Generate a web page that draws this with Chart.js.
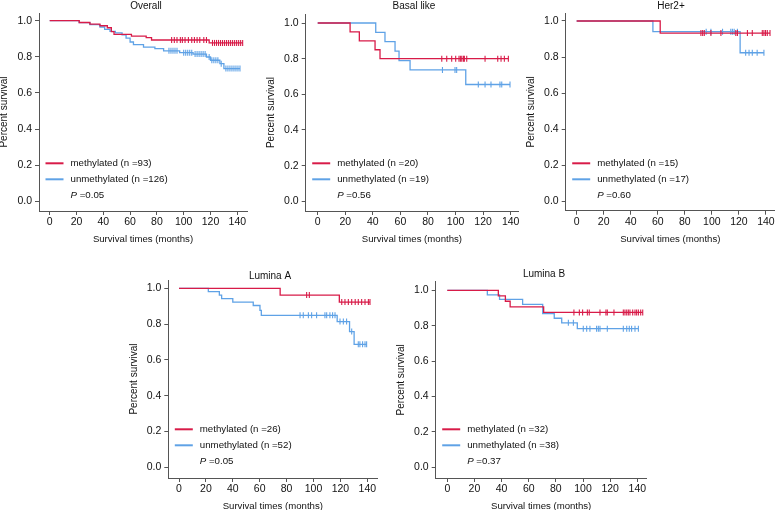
<!DOCTYPE html>
<html>
<head>
<meta charset="utf-8">
<script src="https://cdn.jsdelivr.net/npm/chart.js@4.4.0/dist/chart.umd.min.js"></script>
<style>
    html, body { margin: 0; padding: 0; background: #fff; }
    #wrap { position: relative; width: 780px; height: 510px; overflow: hidden; }
    #wrap canvas { position: absolute; left: 0; top: 0; }
</style>
</head>
<body>
<div id="wrap">
    <canvas id="c1" width="780" height="510"></canvas>
    <canvas id="c2" width="780" height="510"></canvas>
    <canvas id="c3" width="780" height="510"></canvas>
    <canvas id="c4" width="780" height="510"></canvas>
    <canvas id="c5" width="780" height="510"></canvas>
</div>
<script>
// axis ticks
const xTicks = [0, 20, 40, 60, 80, 100, 120, 140];
const xTickLabels = ['0', '20', '40', '60', '80', '100', '120', '140'];
const yTicks = [0, 0.2, 0.4, 0.6, 0.8, 1.0];
const yTickLabels = ['0.0', '0.2', '0.4', '0.6', '0.8', '1.0'];
const groupNames = ['methylated', 'unmethylated'];

// Overall
const overallN = [93, 126];
const overallP = '0.05';
const overallMethTimes = [22, 30, 37.5, 43, 46, 48, 61, 72, 76, 119];
const overallMethSurv = [0.99, 0.981, 0.972, 0.961, 0.94, 0.924, 0.915, 0.906, 0.893, 0.877];
const overallMethCensor = [91, 93, 95, 97.5, 99, 101, 103.5, 106, 108, 110, 112, 115, 117, 121.5, 123, 124.5, 126, 127.5, 129, 130.5, 132, 133.5, 135, 136.5, 138, 139.5, 141, 142.5, 144];
const overallUnmethTimes = [22, 30, 37.5, 41, 45, 49, 54, 57, 60, 62.5, 70, 78.5, 85, 97, 107, 117, 120, 127, 130];
const overallUnmethSurv = [0.989, 0.978, 0.965, 0.952, 0.941, 0.933, 0.922, 0.904, 0.882, 0.867, 0.854, 0.845, 0.833, 0.823, 0.815, 0.799, 0.781, 0.762, 0.735];
const overallUnmethCensor = [89, 90.5, 92, 93.5, 95, 100, 101.5, 103, 104.5, 106, 108.5, 110, 111.5, 113, 114.5, 116, 119, 121, 122.5, 124, 125.5, 128, 131.5, 133, 134.5, 136, 137.5, 139, 140.5, 142];

// Basal like
const basalN = [20, 19];
const basalP = '0.56';
const basalMethTimes = [23.5, 30.2, 41.6, 45.2];
const basalMethSurv = [0.95, 0.90, 0.85, 0.80];
const basalMethCensor = [90, 93.6, 97.2, 100.1, 102.5, 103.5, 104.5, 105.7, 106.4, 108.1, 121.4, 130.6, 133, 135.4, 138.3];
const basalUnmethTimes = [42.1, 48.8, 56.1, 59, 67, 107.4];
const basalUnmethSurv = [0.947, 0.895, 0.842, 0.789, 0.737, 0.655];
const basalUnmethCensor = [90.5, 99.6, 100.8, 116.5, 121.4, 125.7, 132.2, 133.5, 139.5];

// Her2+
const her2N = [15, 17];
const her2P = '0.60';
const her2MethTimes = [61.8];
const her2MethSurv = [0.933];
const her2MethCensor = [91.9, 93.2, 94.4, 99.3, 106.7, 117.7, 118.9, 126.3, 129.9, 137.3, 138.5, 139.7, 141, 143];
const her2UnmethTimes = [56.4, 120.9];
const her2UnmethSurv = [0.941, 0.824];
const her2UnmethCensor = [95.8, 99.3, 107.9, 114, 115.2, 116.5, 118.9, 125, 127.5, 129.9, 133.5, 138.5];

// Lumina A
const luminaAN = [26, 52];
const luminaAP = '0.05';
const luminaAMethTimes = [75.2, 119.2];
const luminaAMethSurv = [0.962, 0.923];
const luminaAMethCensor = [94.9, 96.9, 121, 123.4, 125.9, 128.4, 131, 133.3, 135.8, 138.3, 140.8, 142];
const luminaAUnmethTimes = [21.8, 30, 31.7, 40, 55.2, 60.2, 61.2, 117.6, 126.8, 130.2];
const luminaAUnmethSurv = [0.981, 0.962, 0.942, 0.923, 0.904, 0.877, 0.849, 0.814, 0.758, 0.687];
const luminaAUnmethCensor = [90, 92.4, 96.2, 98.6, 102.3, 108.5, 109.8, 112.2, 114.2, 116, 119.7, 122.2, 124.6, 128.4, 133.3, 134.5, 136.5, 138.3, 139.5];

// Lumina B
const luminaBN = [32, 38];
const luminaBP = '0.37';
const luminaBMethTimes = [37.6, 42.8, 46.3, 71];
const luminaBMethSurv = [0.969, 0.938, 0.906, 0.875];
const luminaBMethCensor = [93.3, 97.3, 99.7, 103.2, 104.6, 112.5, 116.9, 117.9, 122.8, 129.7, 130.9, 132.2, 133.4, 134.6, 136.6, 138.3, 139.5, 140.8, 142.5, 144];
const luminaBUnmethTimes = [29.5, 38.5, 55.5, 70.3, 78.8, 84.3, 95.8];
const luminaBUnmethSurv = [0.974, 0.949, 0.921, 0.868, 0.842, 0.816, 0.783];
const luminaBUnmethCensor = [89.2, 92.9, 100.2, 102.7, 105.1, 110, 111.3, 112.5, 117.9, 129.7, 132.2, 134.1, 135.8, 138.3, 140.8];

const panels = [
    { title: 'Overall', n: overallN, p: overallP,
      groups: [[overallMethTimes, overallMethSurv, overallMethCensor], [overallUnmethTimes, overallUnmethSurv, overallUnmethCensor]] },
    { title: 'Basal like', n: basalN, p: basalP,
      groups: [[basalMethTimes, basalMethSurv, basalMethCensor], [basalUnmethTimes, basalUnmethSurv, basalUnmethCensor]] },
    { title: 'Her2+', n: her2N, p: her2P,
      groups: [[her2MethTimes, her2MethSurv, her2MethCensor], [her2UnmethTimes, her2UnmethSurv, her2UnmethCensor]] },
    { title: 'Lumina A', n: luminaAN, p: luminaAP,
      groups: [[luminaAMethTimes, luminaAMethSurv, luminaAMethCensor], [luminaAUnmethTimes, luminaAUnmethSurv, luminaAUnmethCensor]] },
    { title: 'Lumina B', n: luminaBN, p: luminaBP,
      groups: [[luminaBMethTimes, luminaBMethSurv, luminaBMethCensor], [luminaBUnmethTimes, luminaBUnmethSurv, luminaBUnmethCensor]] }
];

// page geometry of each panel (axis box, pixel of x=0/140, y=1/0, title spot)
const boxes = [
    { id: 'c1', L: 39, R: 247, T: 13, B: 211, x0: 49.7, x140: 237.3, y1: 20.7, y0: 201.3, tx: 146, ty: 6.7 },
    { id: 'c2', L: 305.7, R: 518, T: 14, B: 211, x0: 317.7, x140: 510.7, y1: 23, y0: 201.3, tx: 414, ty: 6.7 },
    { id: 'c3', L: 565.7, R: 776, T: 13, B: 210.7, x0: 576.7, x140: 767, y1: 21, y0: 201.3, tx: 671, ty: 6.7 },
    { id: 'c4', L: 168.3, R: 377.3, T: 280, B: 478, x0: 179, x140: 367.3, y1: 288.3, y0: 467.3, tx: 270, ty: 276 },
    { id: 'c5', L: 435.7, R: 646.7, T: 281.7, B: 478, x0: 447.3, x140: 637.3, y1: 290.3, y0: 467.3, tx: 544, ty: 274 }
];

const colors = ['#d81b48', '#5fa2e6'];
const axisColor = '#555555';
const textColor = '#111111';
const FONT = "'Liberation Sans', Arial, Helvetica, sans-serif";

function survAt(times, surv, t) {
    let s = 1;
    for (let i = 0; i < times.length; i++) {
        if (times[i] <= t) s = surv[i];
    }
    return s;
}

function buildDatasets(panel) {
    const lines = [];
    const marks = [];
    panel.groups.forEach((g, k) => {
        const [times, surv, censor] = g;
        const pts = [{ x: 0, y: 1 }];
        times.forEach((t, i) => pts.push({ x: t, y: surv[i] }));
        const end = Math.max(censor[censor.length - 1], times[times.length - 1]);
        pts.push({ x: end, y: surv[surv.length - 1] });
        lines.push({
            data: pts,
            borderColor: colors[k],
            borderWidth: 1.3,
            stepped: true,
            pointRadius: 0,
            fill: false
        });
        marks.push({
            data: censor.map(t => ({ x: t, y: survAt(times, surv, t) })),
            showLine: false,
            pointStyle: 'line',
            rotation: 90,
            pointRadius: 3,
            pointBorderWidth: 1.1,
            pointBorderColor: colors[k],
            borderColor: colors[k]
        });
    });
    // methylated drawn on top
    return [marks[0], lines[0], marks[1], lines[1]];
}

const panelTextPlugin = {
    id: 'panelText',
    afterDraw(chart) {
        const opts = chart.options.plugins.panelText;
        const ctx = chart.ctx;
        const left = chart.chartArea.left;
        const base = chart.scales.y.getPixelForValue(0);
        ctx.save();
        ctx.fillStyle = textColor;
        ctx.font = '10px ' + FONT;
        ctx.textAlign = 'center';
        ctx.textBaseline = 'middle';
        ctx.fillText(opts.title, opts.tx, opts.ty);

        const rows = [base - 38, base - 22];
        ctx.textAlign = 'left';
        ctx.font = '9.7px ' + FONT;
        rows.forEach((y, k) => {
            ctx.strokeStyle = colors[k];
            ctx.lineWidth = 2;
            ctx.beginPath();
            ctx.moveTo(left + 6.5, y);
            ctx.lineTo(left + 24.5, y);
            ctx.stroke();
            ctx.fillText(groupNames[k] + ' (n =' + opts.n[k] + ')', left + 31.5, y);
        });
        const py = base - 5.5;
        ctx.font = 'italic 9.7px ' + FONT;
        ctx.fillText('P', left + 31.5, py);
        const w = ctx.measureText('P').width;
        ctx.font = '9.7px ' + FONT;
        ctx.fillText(' =' + opts.p, left + 31.5 + w, py);
        ctx.restore();
    }
};

function initPanel(panel, box) {
    const ctx = document.getElementById(box.id).getContext('2d');
    const xppu = (box.x140 - box.x0) / 140;
    const yppu = box.y0 - box.y1;

    new Chart(ctx, {
        type: 'line',
        data: { datasets: buildDatasets(panel) },
        options: {
            responsive: false,
            animation: false,
            layout: {
                padding: { left: box.L - 40.5, top: box.T, right: 780 - box.R, bottom: 510 - box.B - 34 }
            },
            plugins: {
                legend: { display: false },
                tooltip: { enabled: false },
                panelText: { title: panel.title, n: panel.n, p: panel.p, tx: box.tx, ty: box.ty }
            },
            scales: {
                x: {
                    type: 'linear',
                    min: -(box.x0 - box.L) / xppu,
                    max: 140 + (box.R - box.x140) / xppu,
                    afterFit: s => { s.height = 34; },
                    afterBuildTicks: s => { s.ticks = xTicks.map(v => ({ value: v })); },
                    ticks: {
                        callback: (v, i) => xTickLabels[i],
                        color: textColor,
                        font: { family: FONT, size: 10.5 },
                        padding: 1,
                        maxRotation: 0,
                        autoSkip: false
                    },
                    grid: { drawOnChartArea: false, drawTicks: true, tickLength: 4, color: axisColor },
                    border: { display: true, color: axisColor, width: 1 },
                    title: {
                        display: true,
                        text: 'Survival times (months)',
                        color: textColor,
                        font: { family: FONT, size: 9.6 },
                        padding: 0
                    }
                },
                y: {
                    type: 'linear',
                    min: -(box.B - box.y0) / yppu,
                    max: 1 + (box.y1 - box.T) / yppu,
                    afterFit: s => { s.width = 40.5; },
                    afterBuildTicks: s => { s.ticks = yTicks.map(v => ({ value: v })); },
                    ticks: {
                        callback: (v, i) => yTickLabels[i],
                        color: textColor,
                        font: { family: FONT, size: 10.5 },
                        padding: 3
                    },
                    grid: { drawOnChartArea: false, drawTicks: true, tickLength: 4, color: axisColor },
                    border: { display: true, color: axisColor, width: 1 },
                    title: {
                        display: true,
                        text: 'Percent survival',
                        color: textColor,
                        font: { family: FONT, size: 10 },
                        padding: 0
                    }
                }
            }
        },
        plugins: [panelTextPlugin]
    });
}

document.addEventListener('DOMContentLoaded', function() {
    panels.forEach((p, i) => initPanel(p, boxes[i]));
});
</script>
</body>
</html>
